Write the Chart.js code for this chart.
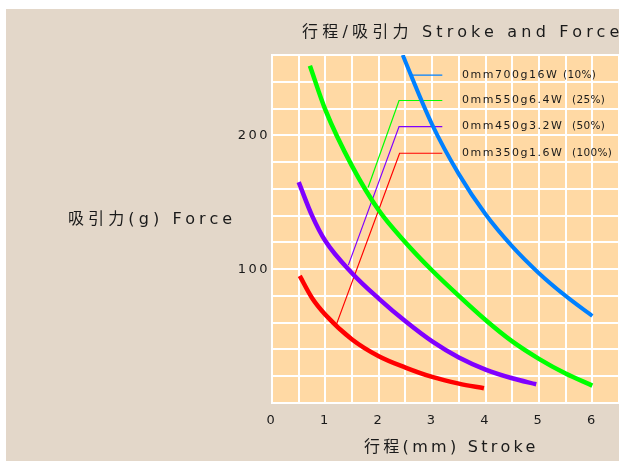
<!DOCTYPE html>
<html>
<head>
<meta charset="utf-8">
<script src="https://cdn.jsdelivr.net/npm/chart.js@4/dist/chart.umd.min.js"></script>
<style>
  html, body { margin: 0; padding: 0; background: #ffffff; }
  #wrap { width: 619px; height: 461px; }
</style>
</head>
<body>
<div id="wrap"><canvas id="c" width="619" height="461"></canvas></div>
<script>
// ---- data ----
const titleText = '行程/吸引力 Stroke and Force';
const yTitle = '吸引力(g) Force';
const xTitle = '行程(mm) Stroke';

const yTickLabels = [100, 200];

const blueStroke = [2.45, 2.50, 3.00, 3.50, 4.00, 4.50, 5.00, 5.50, 6.00];
const blueForce  = [260, 255, 208, 171, 141, 117, 97, 80, 65];

const greenStroke = [0.71, 1.00, 1.50, 2.00, 2.50, 3.00, 3.50, 4.00, 4.50, 5.00, 5.50, 6.00];
const greenForce  = [252, 219, 177, 144, 120, 99, 80, 62, 46, 33, 22, 13];

const purpleStroke = [0.50, 0.75, 1.00, 1.50, 2.00, 2.50, 3.00, 3.50, 4.00, 4.50, 4.95];
const purpleForce  = [165, 140, 121, 97, 78, 61, 46, 34, 25, 18.5, 14];

const redStroke = [0.52, 0.75, 1.00, 1.50, 2.00, 2.50, 3.00, 3.50, 3.97];
const redForce  = [95, 78.5, 66, 47.5, 35, 26.5, 19.5, 14.5, 11];

// leader lines from curves to labels
const leadBlueX = [2.60, 3.19],         leadBlueY = [245, 245];
const leadGreenX = [1.80, 2.38, 3.19],  leadGreenY = [161, 226, 226];
const leadPurpleX = [1.43, 2.38, 3.19], leadPurpleY = [103, 206.5, 206.5];
const leadRedX = [1.20, 2.39, 3.19],    leadRedY = [58, 186.6, 186.6];

const labelMain = ['0mm700g16W', '0mm550g6.4W', '0mm450g3.2W', '0mm350g1.6W'];
const labelPct  = ['(10%)', '(25%)', '(50%)', '(100%)'];
const labelForce = [245, 226, 206.5, 186.6];
const labelStroke = 3.56;

// ---- helpers ----
const zip = (xs, ys) => xs.map((x, i) => ({ x: x, y: ys[i] }));
const LATIN = '"DejaVu Sans", "Noto Sans CJK SC", sans-serif';

const BLUE = '#0080ff', GREEN = '#00ff00', PURPLE = '#8000ff', RED = '#ff0000';

function curve(data, color, w) {
  return { data: data, borderColor: color, borderWidth: w, showLine: true,
           pointRadius: 0, cubicInterpolationMode: 'monotone', fill: false };
}
function leader(data, color) {
  return { data: data, borderColor: color, borderWidth: 1.2, showLine: true,
           pointRadius: 0, tension: 0, fill: false };
}

const bgPlugin = {
  id: 'bg',
  beforeDraw(chart) {
    const ctx = chart.ctx, a = chart.chartArea;
    ctx.save();
    ctx.fillStyle = '#ffffff';
    ctx.fillRect(0, 0, chart.width, chart.height);
    ctx.fillStyle = '#e3d7c9';
    ctx.fillRect(6, 9, chart.width - 6, chart.height - 9);
    ctx.fillStyle = '#ffd9a4';
    ctx.fillRect(a.left, a.top, a.right - a.left, a.bottom - a.top);
    ctx.restore();
    ctx.letterSpacing = '2.5px';
  }
};

function spaced(ctx, text, x, y, font, spacing, align) {
  ctx.save();
  ctx.font = font;
  ctx.letterSpacing = spacing;
  ctx.fillStyle = '#1a1a1a';
  ctx.textBaseline = 'middle';
  ctx.textAlign = align || 'left';
  ctx.fillText(text, x, y);
  ctx.restore();
}

const textPlugin = {
  id: 'texts',
  afterDraw(chart) {
    const ctx = chart.ctx;
    const xs = chart.scales.x, ys = chart.scales.y;
    spaced(ctx, titleText, 302, 33, '16px ' + LATIN, '4.2px');
    spaced(ctx, yTitle, 68, 220, '16px ' + LATIN, '4.1px');
    spaced(ctx, xTitle, 364, 448, '16px ' + LATIN, '3.3px');
    const lx = xs.getPixelForValue(labelStroke);
    for (let i = 0; i < labelMain.length; i++) {
      const py = ys.getPixelForValue(labelForce[i]);
      spaced(ctx, labelMain[i], lx, py, '11px ' + LATIN, '1.5px');
      const sx = i === 0 ? lx + 101 : lx + 110;
      spaced(ctx, labelPct[i], sx, py, '10.5px ' + LATIN, '0.3px');
    }
  }
};

new Chart(document.getElementById('c'), {
  type: 'scatter',
  data: {
    datasets: [
      curve(zip(blueStroke, blueForce), BLUE, 4),
      curve(zip(greenStroke, greenForce), GREEN, 4.5),
      curve(zip(purpleStroke, purpleForce), PURPLE, 4.5),
      curve(zip(redStroke, redForce), RED, 4.5),
      leader(zip(leadBlueX, leadBlueY), BLUE),
      leader(zip(leadGreenX, leadGreenY), GREEN),
      leader(zip(leadPurpleX, leadPurpleY), PURPLE),
      leader(zip(leadRedX, leadRedY), RED)
    ]
  },
  options: {
    responsive: false,
    animation: false,
    devicePixelRatio: 1,
    layout: { padding: { left: 0, top: 55, right: 0, bottom: 0 } },
    plugins: { legend: { display: false }, tooltip: { enabled: false }, title: { display: false } },
    scales: {
      x: {
        type: 'linear', min: 0, max: 6.5,
        afterFit(s) { s.height = 58; s.paddingLeft = 0; s.paddingRight = 0; },
        grid: { color: '#ffffff', lineWidth: 2, drawTicks: false },
        border: { color: '#ffffff', width: 2 },
        ticks: {
          stepSize: 0.5, padding: 10, color: '#1a1a1a',
          font: { family: LATIN, size: 13 },
          callback: v => Number.isInteger(v) ? String(v) : ''
        }
      },
      y: {
        type: 'linear', min: 0, max: 260,
        afterFit(s) { s.width = 272; s.paddingTop = 0; s.paddingBottom = 0; },
        grid: { color: '#ffffff', lineWidth: 2, drawTicks: false },
        border: { color: '#ffffff', width: 2 },
        ticks: {
          stepSize: 20, padding: 2, color: '#1a1a1a',
          font: { family: LATIN, size: 13 },
          callback: v => yTickLabels.includes(v) ? String(v) : ''
        }
      }
    }
  },
  plugins: [bgPlugin, textPlugin]
});
</script>
</body>
</html>
